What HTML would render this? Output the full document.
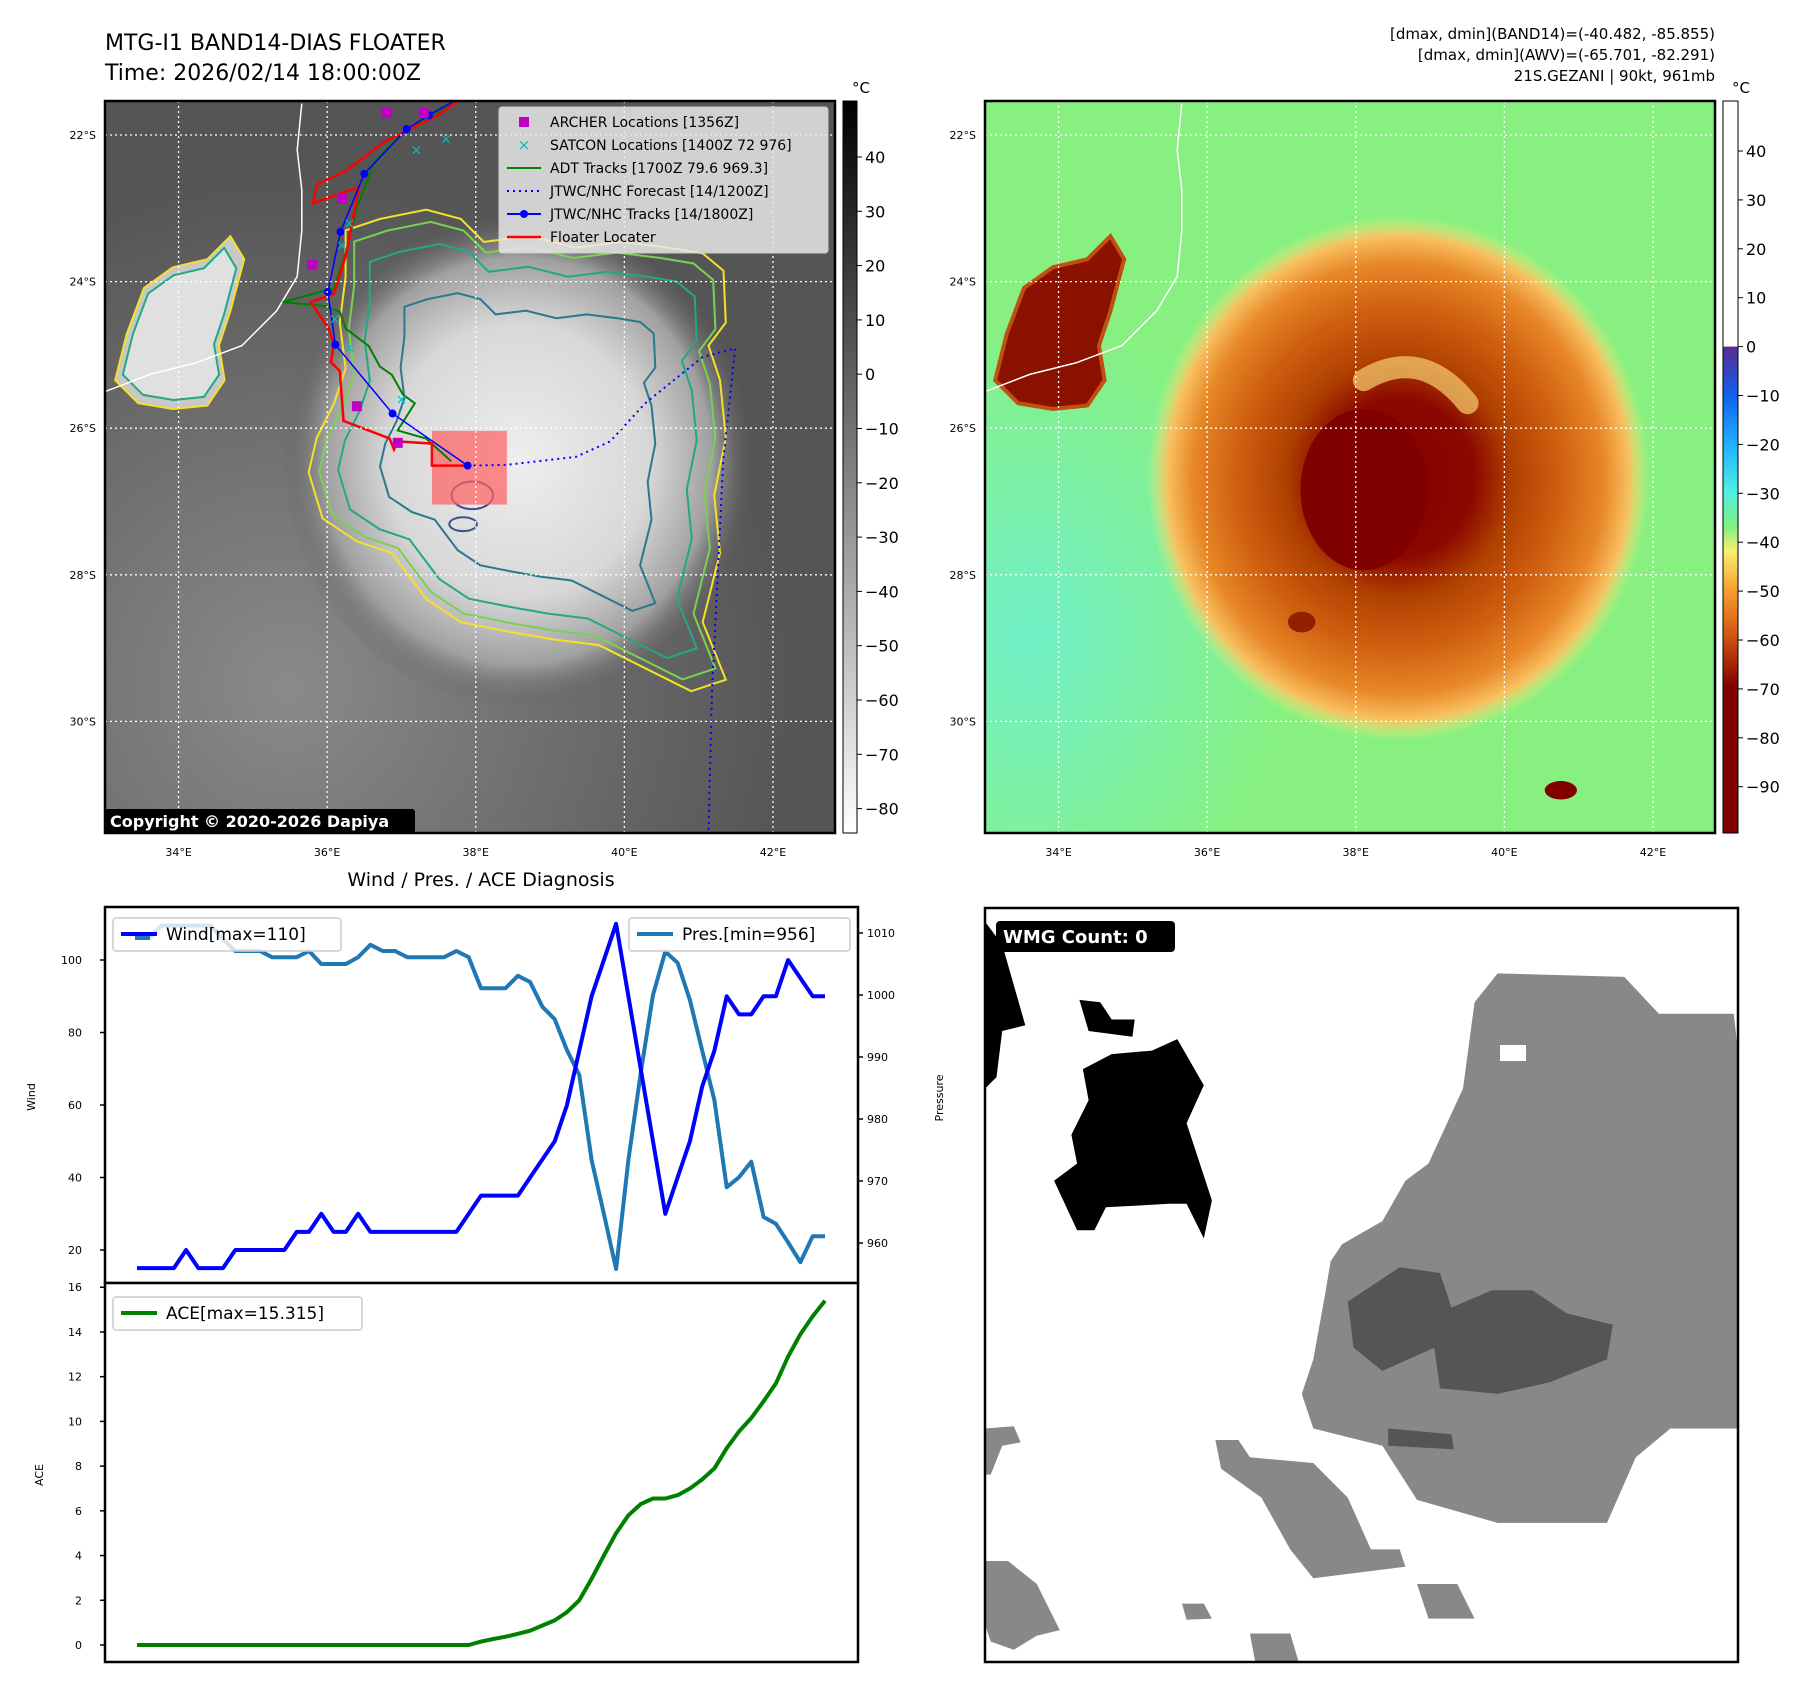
<!DOCTYPE html>
<html><head><meta charset="utf-8"><style>
html,body{margin:0;padding:0;background:#fff}
svg{display:block;font-family:"DejaVu Sans","Liberation Sans",sans-serif}
</style></head><body>
<svg id="root" width="1797" height="1690" viewBox="0 0 1797 1690">
<defs>
<radialGradient id="stormGray" cx="0.5" cy="0.5" r="0.5">
<stop offset="0" stop-color="#eeeeee"/><stop offset="0.55" stop-color="#d8d8d8"/><stop offset="0.82" stop-color="#a0a0a0"/><stop offset="1" stop-color="#5a5a5a" stop-opacity="0"/>
</radialGradient>
<radialGradient id="bgGray" cx="0.25" cy="0.8" r="0.7">
<stop offset="0" stop-color="#8a8a8a"/><stop offset="1" stop-color="#8a8a8a" stop-opacity="0"/>
</radialGradient>
<radialGradient id="stormColor" cx="0.5" cy="0.5" r="0.5">
<stop offset="0" stop-color="#800000"/><stop offset="0.3" stop-color="#8a0800"/><stop offset="0.45" stop-color="#b04000"/><stop offset="0.65" stop-color="#d06010"/><stop offset="0.82" stop-color="#e88828"/><stop offset="0.92" stop-color="#f8c060"/><stop offset="1" stop-color="#f0f080" stop-opacity="0"/>
</radialGradient>
<radialGradient id="cyanArea" cx="0.3" cy="0.6" r="0.5">
<stop offset="0" stop-color="#70f0c8"/><stop offset="1" stop-color="#70f0c8" stop-opacity="0"/>
</radialGradient>
<linearGradient id="cbGray" x1="0" y1="0" x2="0" y2="1"><stop offset="0" stop-color="#000"/><stop offset="1" stop-color="#fff"/></linearGradient>
<linearGradient id="cbColor" x1="0" y1="0" x2="0" y2="1">
<stop offset="0" stop-color="#5a2a90"/><stop offset="0.1" stop-color="#1060f0"/><stop offset="0.2" stop-color="#20b0ff"/><stop offset="0.3" stop-color="#50f0e0"/><stop offset="0.37" stop-color="#80f080"/><stop offset="0.42" stop-color="#f8f070"/><stop offset="0.5" stop-color="#f8a030"/><stop offset="0.6" stop-color="#d05010"/><stop offset="0.7" stop-color="#800000"/><stop offset="1" stop-color="#800000"/>
</linearGradient>
<clipPath id="clipL"><rect x="105" y="101" width="730" height="732"/></clipPath>
<clipPath id="clipR"><rect x="985" y="101" width="730" height="732"/></clipPath>
<clipPath id="clipW"><rect x="985" y="908" width="753" height="754"/></clipPath>
</defs>

<text x="105" y="50" font-size="22">MTG-I1 BAND14-DIAS FLOATER</text>
<text x="105" y="80" font-size="22">Time: 2026/02/14 18:00:00Z</text>
<text x="1715" y="39" font-size="15" text-anchor="end">[dmax, dmin](BAND14)=(-40.482, -85.855)</text>
<text x="1715" y="60" font-size="15" text-anchor="end">[dmax, dmin](AWV)=(-65.701, -82.291)</text>
<text x="1715" y="81" font-size="15" text-anchor="end">21S.GEZANI | 90kt, 961mb</text>

<g id="mapL" clip-path="url(#clipL)"></g>
<rect x="105" y="101" width="730" height="732" fill="none" stroke="#000" stroke-width="2.5"/>
<g id="mapR" clip-path="url(#clipR)"></g>
<rect x="985" y="101" width="730" height="732" fill="none" stroke="#000" stroke-width="2.5"/>
<g id="axesMaps"></g>

<rect x="843" y="101" width="14" height="732" fill="url(#cbGray)" stroke="#000" stroke-width="1"/>
<text x="852" y="93" font-size="15">°C</text>
<g id="cbR"><rect x="1723" y="101" width="15" height="245.6" fill="#fff"/>
<rect x="1723" y="346.6" width="15" height="486.4" fill="url(#cbColor)"/>
<rect x="1723" y="101" width="15" height="732" fill="none" stroke="#000" stroke-width="1"/></g>
<text x="1732" y="93" font-size="15">°C</text>
<g id="cbTicks"></g>

<text x="481" y="886" font-size="19" text-anchor="middle">Wind / Pres. / ACE Diagnosis</text>
<g id="chart"></g>

<g id="wmg"></g>
</svg>
<script>
// ===== Diagnosis chart data =====
const windValues = [15,15,15,15,20,15,15,15,20,20,20,20,20,25,25,30,25,25,30,25,25,25,25,25,25,25,25,30,35,35,35,35,40,45,50,60,75,90,100,110,90,70,50,30,40,50,65,75,90,85,85,90,90,100,95,90,90];
const presValues = [1009.2,1009.2,1011.2,1011.2,1011.2,1011.2,1011.2,1009,1007.1,1007.1,1007.1,1006.1,1006.1,1006.1,1007.1,1005,1005,1005,1006.1,1008.1,1007.1,1007.1,1006.1,1006.1,1006.1,1006.1,1007.1,1006.1,1001.1,1001.1,1001.1,1003.1,1002.1,998.1,996.1,991.1,987.1,973.4,964.7,955.8,973.4,987.4,1000,1007,1005.2,999.2,991.1,983,969,970.6,973.1,964.2,963.1,960.1,956.9,961.1,961.1];
const aceValues = [0,0,0,0,0,0,0,0,0,0,0,0,0,0,0,0,0,0,0,0,0,0,0,0,0,0,0,0,0.15,0.27,0.37,0.5,0.64,0.87,1.1,1.47,2.0,2.96,4.0,5.0,5.8,6.3,6.55,6.55,6.7,7.0,7.4,7.9,8.8,9.55,10.15,10.9,11.7,12.9,13.9,14.7,15.4];
const windTicks = [20,40,60,80,100];
const presTicks = [960,970,980,990,1000,1010];
const aceTicks = [0,2,4,6,8,10,12,14,16];
const windLegend = "Wind[max=110]";
const presLegend = "Pres.[min=956]";
const aceLegend = "ACE[max=15.315]";

// ===== Map track data (lon, lat) =====
const jtwcTrack = [[37.89,-26.51],[36.88,-25.80],[36.11,-24.86],[36.01,-24.14],[36.18,-23.32],[36.50,-22.53],[37.07,-21.92],[37.37,-21.73],[37.95,-21.40]];
const floaterTrack = [[37.89,-26.51],[37.41,-26.51],[37.41,-26.21],[36.95,-26.18],[36.90,-26.29],[36.84,-26.14],[36.22,-25.90],[36.17,-25.22],[36.05,-25.10],[36.09,-24.85],[36.02,-24.64],[35.78,-24.28],[36.09,-24.17],[36.25,-23.65],[36.43,-22.71],[35.81,-22.93],[35.86,-22.68],[36.25,-22.49],[36.79,-22.08],[37.49,-21.73],[37.95,-21.40]];
const adtTrack = [[37.67,-26.45],[37.33,-26.14],[36.95,-26.03],[37.18,-25.66],[37.02,-25.54],[36.87,-25.27],[36.71,-25.16],[36.56,-24.88],[36.25,-24.64],[36.17,-24.41],[35.94,-24.33],[35.40,-24.28],[36.09,-24.09],[36.25,-23.62],[36.40,-22.99],[36.64,-22.36],[37.02,-21.97],[37.49,-21.70],[37.88,-21.40]];
const forecastTrack = [[37.89,-26.51],[38.42,-26.50],[39.35,-26.39],[39.81,-26.18],[40.28,-25.66],[41.05,-25.03],[41.49,-24.91],[41.33,-26.45],[41.18,-29.59],[41.13,-31.6]];
const archerPts = [[36.8,-21.7],[37.3,-21.7],[36.2,-22.87],[35.8,-23.77],[36.4,-25.7],[36.95,-26.2]];
const satconPts = [[37.2,-22.2],[37.6,-22.05],[36.3,-23.2],[36.2,-23.5],[36.1,-24.5],[36.3,-24.9],[37.0,-25.6]];
const lonTicks = [34,36,38,40,42];
const latTicks = [-22,-24,-26,-28,-30];

const NS='http://www.w3.org/2000/svg';
function mk(tag, attrs, parent){const e=document.createElementNS(NS,tag);for(const k in attrs)e.setAttribute(k,attrs[k]);if(parent)parent.appendChild(e);return e;}
function txt(s, attrs, parent){const e=mk('text',attrs,parent);e.textContent=s;return e;}

// ----- chart scales -----
const xs = i => 137 + i*(825-137)/(windValues.length-1);
const yW = v => 1250 - (v-20)*3.625;
const yP = p => 933 + (1010-p)*6.2;
const yA = a => 1645 - a*22.36;
const ch = document.getElementById('chart');

function pathFrom(vals, yf){return vals.map((v,i)=>(i?'L':'M')+xs(i).toFixed(1)+','+yf(v).toFixed(1)).join('');}
let fr = mk('rect',{x:105,y:907,width:753,height:376,fill:'#fff',stroke:'#000','stroke-width':2.5},ch);


let fr2 = mk('rect',{x:105,y:1283,width:753,height:379,fill:'#fff',stroke:'#000','stroke-width':2.5},ch);



windTicks.forEach(v=>{const y=yW(v);
 mk('line',{x1:100,x2:105,y1:y,y2:y,stroke:'#000','stroke-width':1.5},ch);
 const t=txt(String(v),{x:82,y:y+4,'font-size':11,'text-anchor':'end'},ch);
 
 });
presTicks.forEach(v=>{const y=yP(v);
 mk('line',{x1:858,x2:863,y1:y,y2:y,stroke:'#000','stroke-width':1.5},ch);
 const t=txt(String(v),{x:867,y:y+4,'font-size':11},ch);
 
 });
aceTicks.forEach(v=>{const y=yA(v);
 mk('line',{x1:100,x2:105,y1:y,y2:y,stroke:'#000','stroke-width':1.5},ch);
 const t=txt(String(v),{x:82,y:y+4,'font-size':11,'text-anchor':'end'},ch);
 
 });
let yl=txt('Wind',{x:0,y:0,'font-size':11,transform:'translate(35,1097) rotate(-90)','text-anchor':'middle'},ch);


let yl2=txt('Pressure',{x:0,y:0,'font-size':11,transform:'translate(943,1098) rotate(-90)','text-anchor':'middle'},ch);


let yl3=txt('ACE',{x:0,y:0,'font-size':11,transform:'translate(43,1475) rotate(-90)','text-anchor':'middle'},ch);



let pl=mk('path',{d:pathFrom(presValues,yP),fill:'none',stroke:'#1f77b4','stroke-width':4,'stroke-linejoin':'round'},ch);


let wl=mk('path',{d:pathFrom(windValues,yW),fill:'none',stroke:'#0000ff','stroke-width':4,'stroke-linejoin':'round'},ch);


let al=mk('path',{d:pathFrom(aceValues,yA),fill:'none',stroke:'#008000','stroke-width':4,'stroke-linejoin':'round'},ch);



function legend(x,y,w,label,color,name){const g=mk('g',{},ch);
 
 
 mk('rect',{x:x,y:y,width:w,height:33,rx:3,fill:'#fff','fill-opacity':0.8,stroke:'#ccc','stroke-width':1.5},g);
 mk('line',{x1:x+8,x2:x+44,y1:y+16,y2:y+16,stroke:color,'stroke-width':4},g);
 txt(label,{x:x+53,y:y+22,'font-size':17},g);}
legend(113,918,228,windLegend,'#0000ff','wind-legend');
legend(629,918,221,presLegend,'#1f77b4','pressure-legend');
legend(113,1297,249,aceLegend,'#008000','ace-legend');
mk('line',{x1:135,x2:150,y1:938,y2:938,stroke:'#1f77b4','stroke-width':4},ch);

// ----- maps -----
const mX = (lon,off) => 105 + off + (lon-33.01)*74.3;
const mY = lat => 135 + (-22-lat)*73.3;
const S = 1.152;
function ovPoly(pts, off){return pts.map(p=>((p[0]*S)+off).toFixed(1)+','+(p[1]*S).toFixed(1)).join(' ');}
function scalePts(pts,cx,cy,k){return pts.map(p=>[cx+(p[0]-cx)*k, cy+(p[1]-cy)*k]);}
const stormContour=[[300,200],[330,190],[370,182],[400,190],[420,210],[460,205],[500,215],[540,210],[580,215],[610,220],[628,235],[630,280],[615,300],[625,330],[630,380],[620,430],[625,480],[610,540],[630,590],[600,600],[560,580],[520,560],[480,555],[440,548],[400,540],[370,520],[340,480],[310,470],[280,450],[268,410],[275,380],[290,350],[300,320],[295,280],[300,240]];
const islandContour=[[100,330],[110,290],[125,250],[150,232],[180,225],[200,205],[212,225],[200,270],[190,300],[195,330],[180,352],[150,355],[120,350]];
const coast=[[91,340],[130,325],[170,315],[210,300],[240,270],[258,240],[262,200],[262,165],[258,130],[262,90]];

const L=document.getElementById('mapL');
mk('rect',{x:105,y:101,width:730,height:732,fill:'#555'},L);
mk('rect',{x:105,y:101,width:730,height:732,fill:'url(#bgGray)'},L);
mk('ellipse',{cx:450*S,cy:400*S,rx:205*S,ry:215*S,fill:'url(#stormGray)'},L);
mk('polygon',{points:ovPoly(islandContour,0),fill:'#c8c8c8',stroke:'#f5e12a','stroke-width':2},L);
mk('polygon',{points:ovPoly(scalePts(islandContour,155,290,0.88),0),fill:'#e0e0e0',stroke:'#22a884','stroke-width':2},L);
[['#f5e12a',1],['#7ad151',0.95],['#22a884',0.86],['#2a788e',0.66]].forEach(c=>{
 const p=mk('polygon',{points:ovPoly(scalePts(stormContour,450,395,c[1]),0),fill:'none',stroke:c[0],'stroke-width':2},L);
 
 });
mk('ellipse',{cx:410*S,cy:430*S,rx:18*S,ry:12*S,fill:'none',stroke:'#3b528b','stroke-width':2},L);
mk('ellipse',{cx:402*S,cy:455*S,rx:12*S,ry:6*S,fill:'none',stroke:'#3b528b','stroke-width':2},L);
mk('polyline',{points:ovPoly(coast,0),fill:'none',stroke:'#fff','stroke-width':1.5},L);
let pr=mk('rect',{x:375*S,y:374*S,width:65*S,height:64*S,fill:'#ff6060','fill-opacity':0.7},L);


function trackPath(pts,attrs,name){const p=mk('polyline',Object.assign({points:pts.map(q=>mX(q[0],0).toFixed(1)+','+mY(q[1]).toFixed(1)).join(' '),fill:'none'},attrs),L);
 
 }
trackPath(forecastTrack,{stroke:'#0000ff','stroke-width':2,'stroke-dasharray':'2,4'},'jtwc-forecast-track');
trackPath(adtTrack,{stroke:'#008000','stroke-width':2},'adt-track');
trackPath(floaterTrack,{stroke:'#ff0000','stroke-width':2.5},'floater-track');
trackPath(jtwcTrack,{stroke:'#0000ff','stroke-width':1.5},'jtwc-track');
jtwcTrack.forEach(q=>mk('circle',{cx:mX(q[0],0),cy:mY(q[1]),r:4,fill:'#0000ff'},L));
archerPts.forEach(q=>mk('rect',{x:mX(q[0],0)-5,y:mY(q[1])-5,width:10,height:10,fill:'#c000c0'},L));
satconPts.forEach(q=>txt('×',{x:mX(q[0],0),y:mY(q[1])+5,'font-size':14,fill:'#00c0c0','text-anchor':'middle'},L));
const lg=mk('g',{},L);


mk('rect',{x:499,y:107,width:329,height:146,rx:3,fill:'#e8e8e8','fill-opacity':0.85,stroke:'#ccc'},lg);
const legItems=[['ARCHER Locations [1356Z]','sq'],['SATCON Locations [1400Z 72 976]','x'],['ADT Tracks [1700Z 79.6 969.3]','g'],['JTWC/NHC Forecast [14/1200Z]','dot'],['JTWC/NHC Tracks [14/1800Z]','b'],['Floater Locater','r']];
legItems.forEach((it,i)=>{const y=122+i*23;
 if(it[1]==='sq')mk('rect',{x:519,y:y-5,width:10,height:10,fill:'#c000c0'},lg);
 if(it[1]==='x')txt('×',{x:524,y:y+5,'font-size':15,fill:'#00c0c0','text-anchor':'middle'},lg);
 if(it[1]==='g')mk('line',{x1:507,x2:541,y1:y,y2:y,stroke:'#008000','stroke-width':2},lg);
 if(it[1]==='dot')mk('line',{x1:507,x2:541,y1:y,y2:y,stroke:'#0000ff','stroke-width':2,'stroke-dasharray':'2,4'},lg);
 if(it[1]==='b'){mk('line',{x1:507,x2:541,y1:y,y2:y,stroke:'#0000ff','stroke-width':2},lg);mk('circle',{cx:524,cy:y,r:4,fill:'#0000ff'},lg);}
 if(it[1]==='r')mk('line',{x1:507,x2:541,y1:y,y2:y,stroke:'#ff0000','stroke-width':2.5},lg);
 const t=txt(it[0],{x:550,y:y+5,'font-size':14},lg);
 
 });
const cp=mk('g',{},L);


mk('rect',{x:105,y:809,width:310,height:24,rx:3,fill:'#000'},cp);
txt('Copyright © 2020-2026 Dapiya',{x:110,y:827,'font-size':16,'font-weight':'bold',fill:'#fff'},cp);

// right map
const R=document.getElementById('mapR');
const OFF=880;
mk('rect',{x:985,y:101,width:730,height:732,fill:'#88f080'},R);
mk('ellipse',{cx:985+150,cy:101+470,rx:260,ry:330,fill:'url(#cyanArea)'},R);
mk('ellipse',{cx:450*S+OFF,cy:415*S,rx:218*S,ry:228*S,fill:'url(#stormColor)'},R);
mk('path',{d:`M${(420*S+OFF)} ${330*S} Q ${470*S+OFF} ${300*S} ${510*S+OFF} ${350*S}`,fill:'none',stroke:'#f8d070','stroke-width':22,'stroke-linecap':'round','stroke-opacity':0.7},R);
mk('ellipse',{cx:420*S+OFF,cy:425*S,rx:55*S,ry:70*S,fill:'#800000'},R);
mk('polygon',{points:ovPoly(islandContour,OFF),fill:'#8a1000',stroke:'#c05010','stroke-width':4},R);
mk('ellipse',{cx:(1130-764)*S+OFF,cy:540*S,rx:12*S,ry:9*S,fill:'#902000'},R);
mk('ellipse',{cx:(1355-764)*S+OFF,cy:686*S,rx:14*S,ry:8*S,fill:'#800000'},R);
mk('polyline',{points:ovPoly(coast,OFF),fill:'none',stroke:'#fff','stroke-width':1.5},R);

const AX=document.getElementById('axesMaps');
[[0,L],[OFF,R]].forEach(([off,g])=>{
 lonTicks.forEach(lon=>{const x=mX(lon,off);
  mk('line',{x1:x,x2:x,y1:101,y2:833,stroke:'#fff','stroke-width':1.3,'stroke-dasharray':'2,3'},g);
  const t=txt(lon+'°E',{x:x,y:856,'font-size':11,'text-anchor':'middle'},AX);
  
  });
 latTicks.forEach(lat=>{const y=mY(lat);
  mk('line',{x1:105+off,x2:835+off,y1:y,y2:y,stroke:'#fff','stroke-width':1.3,'stroke-dasharray':'2,3'},g);
  const t=txt((-lat)+'°S',{x:96+off,y:y+4,'font-size':11,'text-anchor':'end'},AX);
  
  });
});
L.appendChild(lg); L.appendChild(cp);

const cbLTicks=[40,30,20,10,0,-10,-20,-30,-40,-50,-60,-70,-80];
const cbRTicks=[40,30,20,10,0,-10,-20,-30,-40,-50,-60,-70,-80,-90];
const CT=document.getElementById('cbTicks');
cbLTicks.forEach(v=>{const y=157+(40-v)*5.43;
 mk('line',{x1:857,x2:862,y1:y,y2:y,stroke:'#000'},CT);
 const t=txt(v<0?'−'+(-v):String(v),{x:865,y:y+6,'font-size':16},CT);
 
 });
cbRTicks.forEach(v=>{const y=151+(40-v)*4.89;
 mk('line',{x1:1738,x2:1743,y1:y,y2:y,stroke:'#000'},CT);
 const t=txt(v<0?'−'+(-v):String(v),{x:1746,y:y+6,'font-size':16},CT);
 
 });

const W=document.getElementById('wmg');
mk('rect',{x:985,y:908,width:753,height:754,fill:'#fff'},W);
const wg=mk('g',{'clip-path':'url(#clipW)'},W);
const grayBlobs=[
[[1280,870],[1300,845],[1410,848],[1440,880],[1505,880],[1510,925],[1510,1240],[1450,1240],[1420,1265],[1395,1322],[1300,1322],[1230,1302],[1200,1255],[1140,1240],[1130,1210],[1140,1180],[1150,1125],[1155,1095],[1165,1080],[1200,1060],[1220,1025],[1240,1010],[1270,945]],
[[1055,1250],[1075,1250],[1085,1265],[1140,1270],[1170,1300],[1190,1345],[1215,1345],[1220,1360],[1140,1370],[1120,1345],[1095,1300],[1060,1275]],
[[855,1240],[880,1238],[886,1252],[870,1255],[860,1280],[855,1280]],
[[855,1355],[875,1355],[900,1375],[920,1415],[900,1420],[880,1432],[860,1425],[855,1410]],
[[1026,1392],[1045,1392],[1052,1405],[1030,1406]],
[[1230,1375],[1265,1375],[1280,1405],[1240,1405]],
[[1085,1418],[1120,1418],[1128,1445],[1090,1445]]];
grayBlobs.forEach(b=>{const p=mk('polygon',{points:ovPoly(b,0),fill:'#888'},wg);
 
 });
const darkBlobs=[[[1170,1130],[1215,1100],[1250,1105],[1260,1135],[1295,1120],[1330,1120],[1360,1140],[1400,1150],[1395,1180],[1345,1200],[1300,1210],[1250,1205],[1245,1170],[1200,1190],[1175,1170]],[[1205,1240],[1260,1245],[1262,1258],[1205,1255]]];
darkBlobs.forEach(b=>{const p=mk('polygon',{points:ovPoly(b,0),fill:'#555'},wg);
 
 });
const blackBlobs=[[[915,1025],[935,1010],[930,985],[945,955],[940,928],[965,915],[1000,912],[1022,902],[1045,942],[1030,975],[1052,1042],[1045,1075],[1030,1045],[1015,1045],[960,1048],[950,1068],[935,1068]],[[855,800],[870,820],[890,890],[870,895],[865,935],[855,945]],[[937,868],[955,870],[965,885],[985,885],[983,900],[945,895]]];
blackBlobs.forEach(b=>{const p=mk('polygon',{points:ovPoly(b,0),fill:'#000'},wg);
 
 });
mk('rect',{x:1500,y:1045,width:26,height:16,fill:'#fff'},wg);
mk('rect',{x:985,y:908,width:753,height:754,fill:'none',stroke:'#000','stroke-width':2.5},W);
const wb=mk('g',{},W);


mk('rect',{x:996,y:921,width:179,height:31,rx:4,fill:'#000'},wb);
txt('WMG Count: 0',{x:1003,y:943,'font-size':18,'font-weight':'bold',fill:'#fff'},wb);
</script>
</body></html>
